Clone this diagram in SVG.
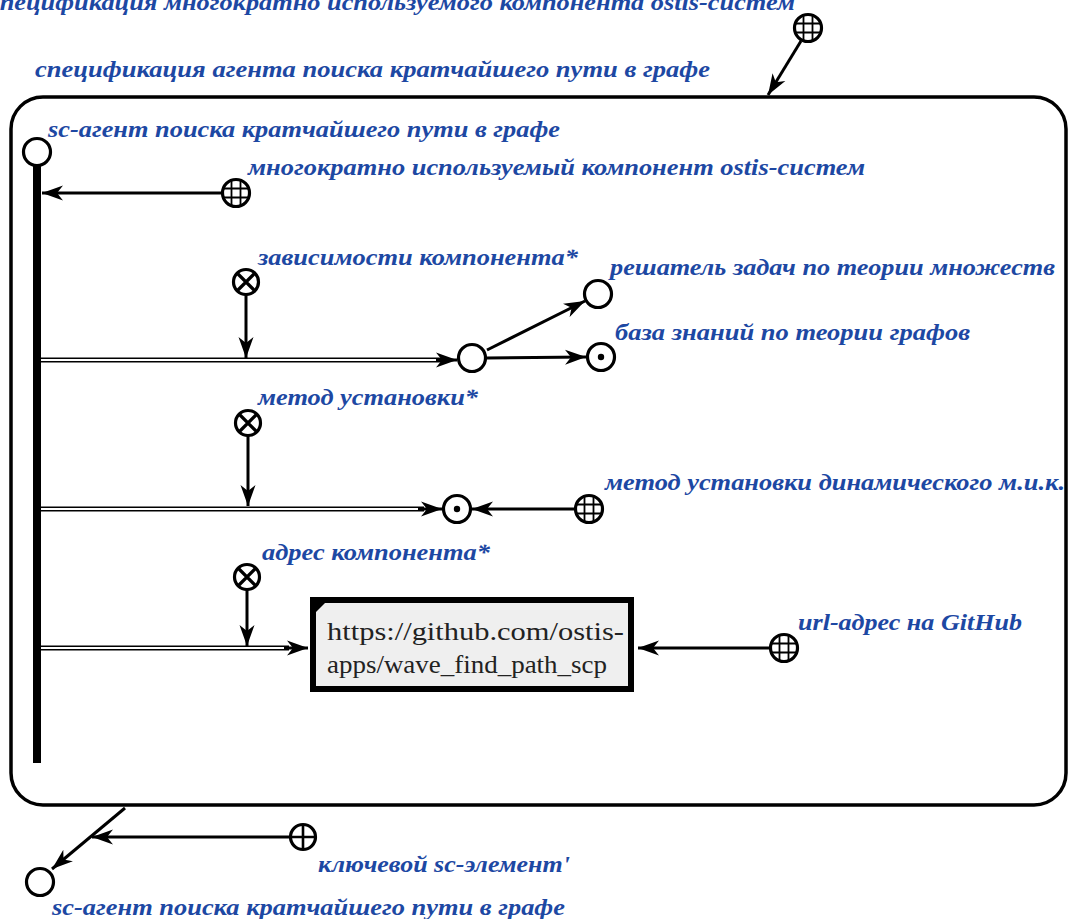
<svg xmlns="http://www.w3.org/2000/svg" width="1069" height="919" viewBox="0 0 1069 919">
<defs>
<marker id="ah" markerUnits="userSpaceOnUse" markerWidth="22" markerHeight="16" refX="21" refY="8" orient="auto">
<path d="M0,0.5 L21,8 L0,15.5 L6,8 z" fill="#000"/>
</marker>
<g id="globe"><circle r="13.5" fill="#fff" stroke="#000" stroke-width="3.2"/><path d="M-4.5,-12.5 V12.5 M4.5,-12.5 V12.5 M-12.5,-4.5 H12.5 M-12.5,4.5 H12.5" stroke="#000" stroke-width="1.8"/></g>
<g id="xnode"><circle r="12.5" fill="#fff" stroke="#000" stroke-width="3.2"/><path d="M-8.5,-8.5 L8.5,8.5 M8.5,-8.5 L-8.5,8.5" stroke="#000" stroke-width="3.2"/></g>
<g id="pnode"><circle r="12.5" fill="#fff" stroke="#000" stroke-width="3.2"/><path d="M0,-12.5 V12.5 M-12.5,0 H12.5" stroke="#000" stroke-width="2.6"/></g>
<g id="onode"><circle r="13.5" fill="#fff" stroke="#000" stroke-width="3.2"/></g>
<g id="dnode"><circle r="13.5" fill="#fff" stroke="#000" stroke-width="3.2"/><circle r="3.2" fill="#000"/></g>
</defs>
<style>
.lbl{font-family:"Liberation Serif","DejaVu Serif",serif;font-style:italic;font-weight:bold;font-size:24px;fill:#1d48a3}
.arc{stroke:#000;stroke-width:3;fill:none;marker-end:url(#ah)}
.dbl{stroke:#000;stroke-width:5;fill:none}
.dbw{stroke:#fff;stroke-width:1.8;fill:none}
.url{font-family:"Liberation Serif","DejaVu Serif",serif;font-size:25px;fill:#222}
</style>
<rect width="1069" height="919" fill="#fff"/>

<g id="frame">
<rect x="11" y="97" width="1055" height="708" rx="32" ry="32" fill="none" stroke="#000" stroke-width="3.5"/>
</g>

<g id="connectors">
<line class="arc" x1="801" y1="41" x2="768" y2="95"/>
<line x1="37" y1="165" x2="37" y2="763" stroke="#000" stroke-width="8"/>
<line class="arc" x1="222" y1="193" x2="42" y2="193"/>
<line class="arc" x1="246" y1="295" x2="246" y2="358"/>
<line class="dbl" x1="41" y1="360" x2="442" y2="360"/>
<line class="dbw" x1="41" y1="360" x2="444" y2="360"/>
<line class="arc" x1="436" y1="360" x2="457" y2="360" stroke-width="2"/>
<line class="arc" x1="487" y1="350" x2="585" y2="301"/>
<line class="arc" x1="487" y1="358" x2="586" y2="357"/>
<line class="arc" x1="248" y1="436" x2="248" y2="506"/>
<line class="dbl" x1="41" y1="509" x2="424" y2="509"/>
<line class="dbw" x1="41" y1="509" x2="426" y2="509"/>
<line class="arc" x1="418" y1="509" x2="442" y2="509" stroke-width="2"/>
<line class="arc" x1="575" y1="509" x2="472" y2="509"/>
<line class="arc" x1="247" y1="590" x2="247" y2="646"/>
<line class="dbl" x1="41" y1="648" x2="289" y2="648"/>
<line class="dbw" x1="41" y1="648" x2="291" y2="648"/>
<line class="arc" x1="284" y1="648" x2="308" y2="648" stroke-width="2"/>
<line class="arc" x1="770" y1="648" x2="638" y2="648"/>
<line class="arc" x1="125" y1="808" x2="52" y2="869"/>
<line class="arc" x1="290" y1="837" x2="92" y2="837"/>
</g>

<g id="n-spec"><use href="#globe" x="808" y="28"/></g>
<g id="n-agent"><use href="#onode" x="37" y="152"/></g>
<g id="n-reuse"><use href="#globe" x="236" y="193"/></g>
<g id="n-dep"><use href="#xnode" x="246" y="282"/></g>
<g id="n-depset"><use href="#onode" x="472" y="358"/></g>
<g id="n-solver"><use href="#onode" x="598" y="294"/></g>
<g id="n-kb"><use href="#dnode" x="601" y="357"/></g>
<g id="n-method"><use href="#xnode" x="248" y="423"/></g>
<g id="n-methodval"><use href="#dnode" x="457" y="509"/></g>
<g id="n-dyn"><use href="#globe" x="589" y="509"/></g>
<g id="n-addr"><use href="#xnode" x="247" y="577"/></g>
<g id="n-link">
<rect x="313" y="600" width="318" height="89" fill="#efefef" stroke="#000" stroke-width="6"/>
<path d="M316,603 H325 L316,612 z" fill="#000"/>
<text class="url" x="327" y="640" textLength="297" lengthAdjust="spacingAndGlyphs">https://github.com/ostis-</text>
<text class="url" x="327" y="673" textLength="280" lengthAdjust="spacingAndGlyphs">apps/wave_find_path_scp</text>
</g>
<g id="n-urlgh"><use href="#globe" x="784" y="648"/></g>
<g id="n-key"><use href="#pnode" x="303" y="837"/></g>
<g id="n-agent2"><use href="#onode" x="40" y="882"/></g>

<g id="labels">
<text class="lbl" x="-12" y="10" textLength="807" lengthAdjust="spacingAndGlyphs">спецификация многократно используемого компонента ostis-систем</text>
<text class="lbl" x="35" y="77" textLength="675" lengthAdjust="spacingAndGlyphs">спецификация агента поиска кратчайшего пути в графе</text>
<text class="lbl" x="48" y="137" textLength="512" lengthAdjust="spacingAndGlyphs">sc-агент поиска кратчайшего пути в графе</text>
<text class="lbl" x="248" y="175" textLength="617" lengthAdjust="spacingAndGlyphs">многократно используемый компонент ostis-систем</text>
<text class="lbl" x="258" y="265" textLength="320" lengthAdjust="spacingAndGlyphs">зависимости компонента*</text>
<text class="lbl" x="610" y="275" textLength="445" lengthAdjust="spacingAndGlyphs">решатель задач по теории множеств</text>
<text class="lbl" x="615" y="340" textLength="355" lengthAdjust="spacingAndGlyphs">база знаний по теории графов</text>
<text class="lbl" x="258" y="405" textLength="220" lengthAdjust="spacingAndGlyphs">метод установки*</text>
<text class="lbl" x="605" y="490" textLength="460" lengthAdjust="spacingAndGlyphs">метод установки динамического м.и.к.</text>
<text class="lbl" x="262" y="560" textLength="228" lengthAdjust="spacingAndGlyphs">адрес компонента*</text>
<text class="lbl" x="798" y="630" textLength="224" lengthAdjust="spacingAndGlyphs">url-адрес на GitHub</text>
<text class="lbl" x="318" y="872" textLength="252" lengthAdjust="spacingAndGlyphs">ключевой sc-элемент'</text>
<text class="lbl" x="52" y="915" textLength="513" lengthAdjust="spacingAndGlyphs">sc-агент поиска кратчайшего пути в графе</text>
</g>
</svg>
